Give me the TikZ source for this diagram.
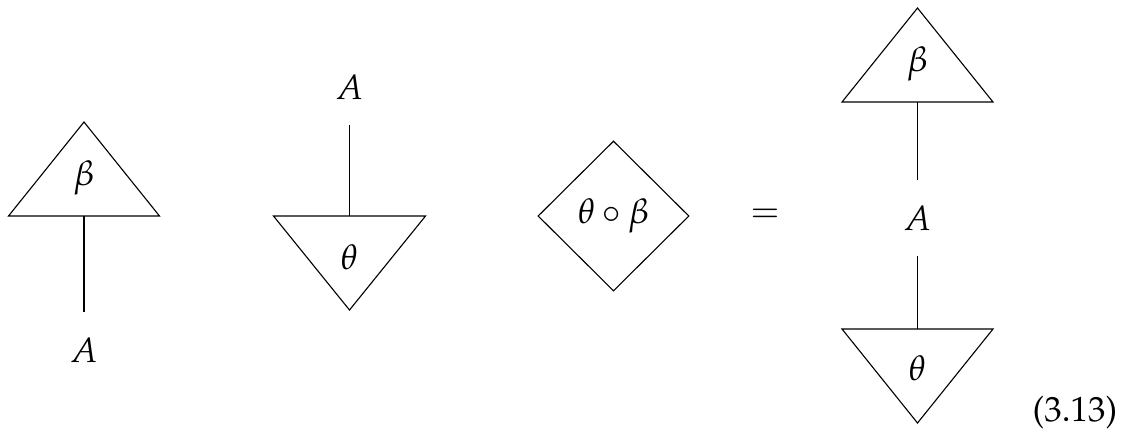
\documentclass[tikz,border=0pt]{standalone}
\usepackage[T1]{fontenc}
\usepackage{mathpazo}
\usetikzlibrary{positioning,shapes.geometric,calc}

\begin{document}
\begin{tikzpicture}[x=0.36pt, y=-0.36pt, font=\fontsize{12.6}{15}\selectfont,
    wire/.style={line width=0.4pt},
    lab/.style={inner sep=9pt}]
  \useasboundingbox (0,0) rectangle (1124,435);
  % estado beta con su pata A
  \coordinate (b1) at (84,216);
  \draw[wire] ($(b1)+(-75.5,0)$) -- ($(b1)+(0,-94)$) -- ($(b1)+(75.5,0)$) -- cycle;
  \node (beta1) at (84,178) {$\beta$};
  \node[lab] (A1) at (84,350) {$A$};
  \draw[line width=0.7pt] (b1) -- (A1.north);
  % efecto theta
  \coordinate (t2) at (349.5,216);
  \draw[wire] ($(t2)+(-76,0)$) -- ($(t2)+(0,94)$) -- ($(t2)+(76,0)$) -- cycle;
  \node (theta2) at (349.5,257) {$\theta$};
  \node[lab] (A2) at (349.5,87) {$A$};
  \draw[wire] (A2.south) -- (t2);
  % composicion (escalar)
  \node[draw, diamond, wire, inner sep=0pt, minimum width=54.4pt, minimum height=54pt] (comp) at (613.5,216) {$\theta\circ\beta$};
  \node (eq) at (765,216) {$=$};
  % lado derecho: beta arriba, theta abajo
  \coordinate (b3) at (917.5,102);
  \draw[wire] ($(b3)+(-75.5,0)$) -- ($(b3)+(0,-94)$) -- ($(b3)+(75.5,0)$) -- cycle;
  \node (beta3) at (917.5,64) {$\beta$};
  \node[lab] (A3) at (917.5,218) {$A$};
  \coordinate (t3) at (917.5,329);
  \draw[wire] ($(t3)+(-75.5,0)$) -- ($(t3)+(0,94)$) -- ($(t3)+(75.5,0)$) -- cycle;
  \node (theta3) at (917.5,368) {$\theta$};
  \draw[wire] (b3) -- (A3.north);
  \draw[wire] (A3.south) -- (t3);
  \node (num) at (1075,412) {(3.13)};
\end{tikzpicture}
\end{document}
